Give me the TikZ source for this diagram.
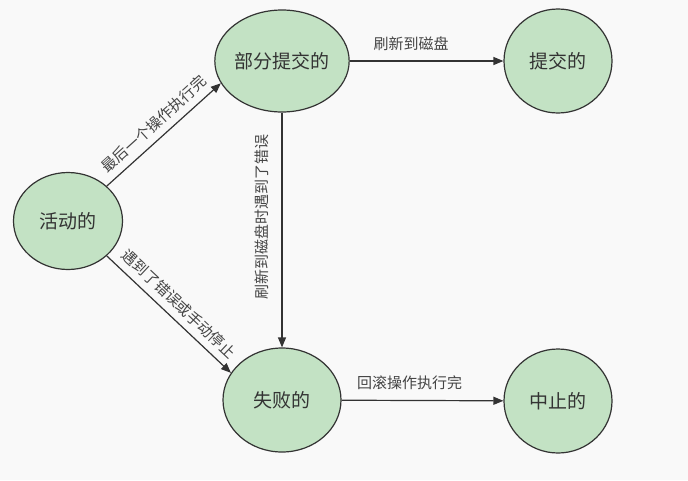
\documentclass[tikz,border=0pt]{standalone}
\usepackage{fontspec}
\usepackage{tikz}
\usetikzlibrary{arrows.meta,shapes.geometric}
\setmainfont{Noto Sans CJK SC}
\definecolor{StateFill}{HTML}{C3E2C4}
\definecolor{StateLine}{HTML}{333333}
\definecolor{LabelText}{HTML}{444444}
\definecolor{PageBG}{HTML}{F9F9F9}

\tikzset{
  statenode/.style={ellipse,draw=StateLine,fill=StateFill,line width=1.2pt,
                    inner sep=0pt,text=StateLine,font=\fontsize{19}{22}\selectfont},
  flow/.style={draw=StateLine,line width=1.2pt,-{Triangle[length=10pt,width=8pt]}},
  flowlabel/.style={text=LabelText,font=\fontsize{15}{16}\selectfont,inner sep=4pt}
}

\begin{document}
\begin{tikzpicture}[x=1pt,y=-1pt]
    \fill[PageBG] (0,0) rectangle (688,480);
    \useasboundingbox (0,0) rectangle (688,480);

    \node[statenode,minimum width=109pt,minimum height=97pt]  (active)    at (68,221)  {活动的};
    \node[statenode,minimum width=118pt,minimum height=102pt] (partial)   at (282,61)  {部分提交的};
    \node[statenode,minimum width=108pt,minimum height=104pt] (committed) at (558,61)  {提交的};
    \node[statenode,minimum width=118pt,minimum height=104pt] (failed)    at (282,400) {失败的};
    \node[statenode,minimum width=108pt,minimum height=104pt] (aborted)   at (558,401) {中止的};

    \draw[flow] (active.42) -- (partial.200)
      node[midway,sloped,above=3pt,flowlabel]{最后一个操作执行完};
    \draw[flow] (active.-42) -- (failed.152)
      node[midway,sloped,above=3pt,flowlabel]{遇到了错误或手动停止};
    \draw[flow] (partial) -- (committed)
      node[pos=.4,above=6pt,flowlabel]{刷新到磁盘};
    \draw[flow] (partial) -- (failed)
      node[pos=.445,rotate=90,anchor=south,yshift=9pt,flowlabel]{刷新到磁盘时遇到了错误};
    \draw[flow] (failed) -- (aborted)
      node[pos=.42,above=6pt,flowlabel]{回滚操作执行完};
\end{tikzpicture}
\end{document}
